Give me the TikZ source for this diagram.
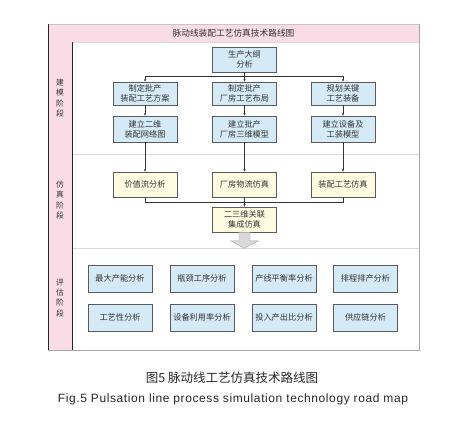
\documentclass[tikz,border=0pt]{standalone}
\usepackage{fontspec}
\setmainfont{Noto Sans CJK SC}
\newfontfamily\latfont[LetterSpace=5]{Liberation Sans}
\usetikzlibrary{arrows.meta,positioning,calc}

\definecolor{pinkF}{HTML}{F9DCE6}
\definecolor{blueF}{HTML}{D5EAF7}
\definecolor{ylwF}{HTML}{FFFBE0}
\definecolor{boxD}{HTML}{5A5A5A}
\definecolor{txtC}{HTML}{333333}

\tikzset{
    bluebox/.style={draw=boxD, fill=blueF, line width=0.6pt, minimum width=64pt, minimum height=25pt,
        align=center, inner sep=1pt, text=txtC, font=\fontsize{8.2}{10}\selectfont},
    ylwbox/.style={bluebox, fill=ylwF},
    stagelbl/.style={align=center, text=txtC, font=\fontsize{7.8}{10.3}\selectfont},
    link/.style={draw=black!80, line width=0.5pt},
    arr/.style={link, -{Stealth[length=2.6pt,width=2.2pt]}}
}

\begin{document}
\begin{tikzpicture}[x=1pt, y=-1pt]

    \useasboundingbox (0,0) rectangle (462,423);

    % --- 外框与阶段栏 ---
    \fill[pinkF] (48,24) rectangle (419,42);
    \fill[pinkF] (48,42) rectangle (72,350);
    \draw[gray!45] (48,24) -- (419,24);
    \draw[gray!30] (72,42) -- (419,42);
    \draw[gray!30] (72,154) -- (419,154);
    \draw[gray!30] (72,248) -- (419,248);
    \draw[gray!70] (419,24) -- (419,350) -- (48,350);
    \draw[black!85, line width=0.7pt] (48,24) -- (48,350);
    \draw[black!85, line width=0.7pt] (72,42) -- (72,350);

    \node[text=txtC, font=\fontsize{8.7}{10}\selectfont] (title) at (233.5,33) {脉动线装配工艺仿真技术路线图};

    \node[stagelbl] (stgA) at (60,98) {建\\模\\阶\\段};
    \node[stagelbl] (stgB) at (60,200) {仿\\真\\阶\\段};
    \node[stagelbl] (stgC) at (60,298) {评\\估\\阶\\段};

    % --- 建模阶段 ---
    \node[bluebox] (plan) at (244.5,59.5) {生产大纲\\分析};
    \node[bluebox, minimum height=23pt] (procA) at (145,93.5) {制定批产\\装配工艺方案};
    \node[bluebox, minimum height=23pt] (procB) at (244.5,93.5) {制定批产\\厂房工艺布局};
    \node[bluebox, minimum height=23pt] (procC) at (343,93.5) {规划关键\\工艺装备};
    \node[bluebox, minimum height=26pt] (modA) at (145,129) {建立二维\\装配网络图};
    \node[bluebox, minimum height=26pt] (modB) at (244.5,129) {建立批产\\厂房三维模型};
    \node[bluebox, minimum height=26pt] (modC) at (343,129) {建立设备及\\工装模型};

    % --- 仿真阶段 ---
    \node[ylwbox] (simA) at (145,184.5) {价值流分析};
    \node[ylwbox] (simB) at (244.5,184.5) {厂房物流仿真};
    \node[ylwbox] (simC) at (343,184.5) {装配工艺仿真};
    \node[ylwbox] (integ) at (244.5,219.5) {二三维关联\\集成仿真};

    % --- 评估阶段 ---
    \node[bluebox, minimum height=27pt] (evA) at (120,278.5) {最大产能分析};
    \node[bluebox, minimum height=27pt] (evB) at (202,278.5) {瓶颈工序分析};
    \node[bluebox, minimum height=27pt] (evC) at (284,278.5) {产线平衡率分析};
    \node[bluebox, minimum height=27pt] (evD) at (365.5,278.5) {排程排产分析};
    \node[bluebox, minimum height=27pt] (evE) at (120,317.5) {工艺性分析};
    \node[bluebox, minimum height=27pt] (evF) at (202,317.5) {设备利用率分析};
    \node[bluebox, minimum height=27pt] (evG) at (284,317.5) {投入产出比分析};
    \node[bluebox, minimum height=27pt] (evH) at (365.5,317.5) {供应链分析};

    % --- 连接线 ---
    \coordinate (splitA) at (145,76);
    \coordinate (splitC) at (343,76);
    \draw[link] (splitA) -- (splitC);
    \draw[arr] (plan) -- (procB);
    \draw[arr] (splitA) -- (procA);
    \draw[arr] (splitC) -- (procC);
    \draw[arr] (procA) -- (modA);
    \draw[arr] (procB) -- (modB);
    \draw[arr] (procC) -- (modC);
    \draw[arr] (modA) -- (simA);
    \draw[arr] (modB) -- (simB);
    \draw[arr] (modC) -- (simC);

    \coordinate (joinA) at (145,202);
    \coordinate (joinC) at (343,202);
    \draw[link] (simA) -- (joinA) -- (joinC) -- (simC);
    \draw[arr] (simB) -- (integ);

    % 大箭头
    \draw[gray!70, fill=gray!30] ($(integ.south)+(-5.5,0)$) -- ++(0,8.5) -- ++(-8.5,0)
        -- ($(integ.south)+(0,16)$) -- ($(integ.south)+(14,8.5)$) -- ++(-8.5,0) -- ++(0,-8.5);

    % --- 图题 ---
    \node[text=black!85, font=\fontsize{12.5}{14}\selectfont] (capCn) at (232,377.5) {图5 脉动线工艺仿真技术路线图};
    \node[text=black!85, font=\latfont\fontsize{12}{14}\selectfont] (capEn) at (233,399) {Fig.5 Pulsation line process simulation technology road map};

\end{tikzpicture}
\end{document}
